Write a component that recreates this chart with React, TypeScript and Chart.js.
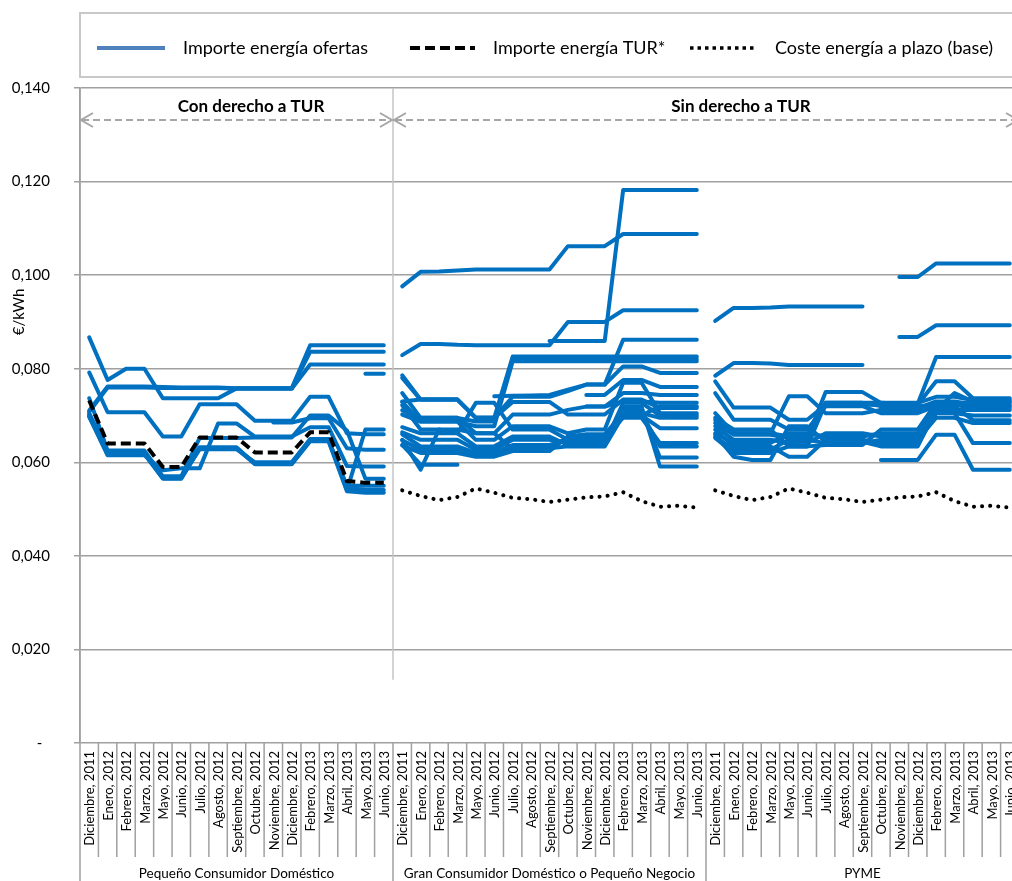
import React, { useEffect, useRef } from 'react';
import { Chart, registerables } from 'chart.js';

Chart.register(...registerables);

// ---------- DATA ----------
const months = [
  'Diciembre, 2011', 'Enero, 2012', 'Febrero, 2012', 'Marzo, 2012', 'Mayo, 2012', 'Junio, 2012',
  'Julio, 2012', 'Agosto, 2012', 'Septiembre, 2012', 'Octubre, 2012', 'Noviembre, 2012',
  'Diciembre, 2012', 'Febrero, 2013', 'Marzo, 2013', 'Abril, 2013', 'Mayo, 2013', 'Junio, 2013',
];
const segments = ['Pequeño Consumidor Doméstico', 'Gran Consumidor Doméstico o Pequeño Negocio', 'PYME'];
const yTickValues = [0, 0.02, 0.04, 0.06, 0.08, 0.1, 0.12, 0.14];
const legendLabels = ['Importe energía ofertas', 'Importe energía TUR*', 'Coste energía a plazo (base)'];
const headerLabels = ['Con derecho a TUR', 'Sin derecho a TUR'];

type S = (number | null)[];
const N = null;

// Pequeño Consumidor Doméstico – offers
const domesticOffers: S[] = [
  [0.0867, 0.0776, 0.0800, 0.0800, 0.0737, 0.0737, 0.0737, 0.0737, 0.0758, 0.0758, 0.0758, 0.0758, 0.0850, 0.0850, 0.0850, 0.0850, 0.0850],
  [0.0711, 0.0762, 0.0762, 0.0762, 0.0761, 0.0760, 0.0760, 0.0760, 0.0758, 0.0758, 0.0758, 0.0758, 0.0836, 0.0836, 0.0836, 0.0836, 0.0836],
  [0.0708, 0.0760, 0.0760, 0.0760, 0.0759, 0.0759, 0.0759, 0.0759, 0.0757, 0.0757, 0.0757, 0.0757, 0.0809, 0.0809, 0.0809, 0.0809, 0.0809],
  [N, N, N, N, N, N, N, N, N, N, N, N, N, N, N, 0.0789, 0.0789],
  [0.0792, 0.0707, 0.0707, 0.0707, 0.0655, 0.0655, 0.0724, 0.0724, 0.0724, 0.0689, 0.0689, 0.0689, 0.0740, 0.0740, 0.0662, 0.0660, 0.0660],
  [N, N, N, N, N, N, N, N, N, N, 0.0685, 0.0685, 0.0694, 0.0694, 0.0630, 0.0627, 0.0627],
  [0.0697, 0.0615, 0.0615, 0.0615, 0.0583, 0.0587, 0.0587, 0.0683, 0.0683, 0.0655, 0.0655, 0.0655, 0.0675, 0.0675, 0.0592, 0.0591, 0.0591],
  [0.0737, 0.0625, 0.0625, 0.0625, 0.0570, 0.0570, 0.0652, 0.0652, 0.0652, 0.0653, 0.0653, 0.0653, 0.0700, 0.0700, 0.0668, 0.0565, 0.0565],
  [0.0700, 0.0622, 0.0622, 0.0622, 0.0568, 0.0568, 0.0628, 0.0628, 0.0628, 0.0600, 0.0600, 0.0600, 0.0650, 0.0650, 0.0540, 0.0670, 0.0670],
  [0.0705, 0.0620, 0.0620, 0.0620, 0.0568, 0.0568, 0.0632, 0.0632, 0.0632, 0.0597, 0.0597, 0.0597, 0.0647, 0.0647, 0.0545, 0.0541, 0.0541],
  [0.0702, 0.0617, 0.0617, 0.0617, 0.0565, 0.0565, 0.0630, 0.0630, 0.0630, 0.0596, 0.0596, 0.0596, 0.0645, 0.0645, 0.0538, 0.0535, 0.0535],
  [0.0698, 0.0619, 0.0619, 0.0619, 0.0566, 0.0566, 0.0629, 0.0629, 0.0629, 0.0598, 0.0598, 0.0598, 0.0646, 0.0646, 0.0550, 0.0550, 0.0550],
];

// Gran Consumidor Doméstico o Pequeño Negocio – offers
const largeDomesticOffers: S[] = [
  [0.0976, 0.1007, 0.1008, 0.1010, 0.1012, 0.1012, 0.1012, 0.1012, 0.1012, 0.1062, 0.1062, 0.1062, 0.1088, 0.1088, 0.1088, 0.1088, 0.1088],
  [0.0829, 0.0853, 0.0853, 0.0851, 0.0850, 0.0850, 0.0850, 0.0850, 0.0850, 0.0900, 0.0900, 0.0900, 0.0925, 0.0925, 0.0925, 0.0925, 0.0925],
  [N, N, N, N, N, N, N, N, 0.0859, 0.0859, 0.0859, 0.0859, 0.1182, 0.1182, 0.1182, 0.1182, 0.1182],
  [0.0786, 0.0734, 0.0734, 0.0734, 0.0695, 0.0695, 0.0740, 0.0740, 0.0740, 0.0752, 0.0766, 0.0766, 0.0862, 0.0862, 0.0862, 0.0862, 0.0862],
  [N, N, N, N, N, 0.0741, 0.0742, 0.0743, 0.0744, 0.0755, 0.0766, 0.0766, 0.0805, 0.0805, 0.0791, 0.0791, 0.0791],
  [N, N, N, N, N, N, N, N, N, N, 0.0744, 0.0744, 0.0776, 0.0776, 0.0761, 0.0761, 0.0761],
  [N, N, N, N, N, N, N, N, N, N, 0.0719, 0.0719, 0.0730, 0.0730, 0.0727, 0.0727, 0.0727],
  [0.0780, 0.0734, 0.0734, 0.0734, 0.0695, 0.0695, 0.0826, 0.0826, 0.0826, 0.0826, 0.0826, 0.0826, 0.0826, 0.0826, 0.0826, 0.0826, 0.0826],
  [0.0748, 0.0695, 0.0695, 0.0695, 0.0687, 0.0687, 0.0821, 0.0821, 0.0821, 0.0821, 0.0821, 0.0821, 0.0821, 0.0821, 0.0821, 0.0821, 0.0821],
  [0.0729, 0.0687, 0.0687, 0.0687, 0.0677, 0.0677, 0.0816, 0.0816, 0.0816, 0.0816, 0.0816, 0.0816, 0.0816, 0.0816, 0.0816, 0.0816, 0.0816],
  [0.0730, 0.0734, 0.0734, 0.0734, 0.0695, 0.0695, 0.0729, 0.0729, 0.0729, 0.0702, 0.0702, 0.0702, 0.0734, 0.0734, 0.0716, 0.0716, 0.0716],
  [0.0722, 0.0670, 0.0670, 0.0662, 0.0727, 0.0727, 0.0670, 0.0670, 0.0670, 0.0648, 0.0648, 0.0648, 0.0700, 0.0700, 0.0720, 0.0720, 0.0720],
  [0.0711, 0.0695, 0.0695, 0.0695, 0.0662, 0.0662, 0.0702, 0.0702, 0.0702, 0.0712, 0.0719, 0.0719, 0.0748, 0.0748, 0.0744, 0.0744, 0.0744],
  [0.0648, 0.0584, 0.0670, 0.0670, 0.0662, 0.0662, 0.0628, 0.0628, 0.0628, 0.0655, 0.0655, 0.0655, 0.0695, 0.0695, 0.0641, 0.0641, 0.0641],
  [0.0637, 0.0595, 0.0595, 0.0595, N, N, N, N, N, N, N, N, N, N, N, N, N],
  [0.0675, 0.0662, 0.0662, 0.0662, 0.0634, 0.0634, 0.0655, 0.0655, 0.0655, 0.0637, 0.0637, 0.0637, 0.0712, 0.0712, 0.0610, 0.0610, 0.0610],
  [0.0664, 0.0648, 0.0648, 0.0648, 0.0627, 0.0627, 0.0648, 0.0648, 0.0648, 0.0641, 0.0641, 0.0641, 0.0719, 0.0719, 0.0591, 0.0591, 0.0591],
  [0.0660, 0.0634, 0.0634, 0.0634, 0.0620, 0.0620, 0.0637, 0.0637, 0.0637, 0.0648, 0.0648, 0.0648, 0.0705, 0.0705, 0.0634, 0.0634, 0.0634],
  [0.0647, 0.0627, 0.0627, 0.0627, 0.0617, 0.0617, 0.0630, 0.0630, 0.0630, 0.0634, 0.0634, 0.0634, 0.0700, 0.0700, 0.0673, 0.0673, 0.0673],
  [0.0636, 0.0620, 0.0620, 0.0620, 0.0612, 0.0612, 0.0624, 0.0624, 0.0624, 0.0655, 0.0660, 0.0660, 0.0705, 0.0705, 0.0695, 0.0695, 0.0695],
  [0.0702, 0.0687, 0.0687, 0.0687, 0.0648, 0.0648, 0.0677, 0.0677, 0.0677, 0.0662, 0.0670, 0.0670, 0.0770, 0.0770, 0.0705, 0.0705, 0.0705],
  [N, N, N, N, N, N, N, N, N, 0.0641, 0.0641, 0.0641, 0.0727, 0.0727, 0.0700, 0.0700, 0.0700],
];

// PYME – offers
const smeOffers: S[] = [
  [0.0902, 0.0930, 0.0930, 0.0931, 0.0933, 0.0933, 0.0933, 0.0933, 0.0933, N, N, N, N, N, N, N, N],
  [0.0785, 0.0812, 0.0812, 0.0811, 0.0808, 0.0808, 0.0808, 0.0808, 0.0808, N, N, N, N, N, N, N, N],
  [N, N, N, N, N, N, N, N, N, N, 0.0996, 0.0996, 0.1025, 0.1025, 0.1025, 0.1025, 0.1025],
  [N, N, N, N, N, N, N, N, N, N, 0.0868, 0.0868, 0.0893, 0.0893, 0.0893, 0.0893, 0.0893],
  [0.0705, 0.0662, 0.0662, 0.0662, 0.0655, 0.0655, 0.0727, 0.0727, 0.0727, 0.0727, 0.0725, 0.0725, 0.0825, 0.0825, 0.0825, 0.0825, 0.0825],
  [0.0773, 0.0717, 0.0717, 0.0717, 0.0691, 0.0691, 0.0723, 0.0723, 0.0723, 0.0723, 0.0723, 0.0723, 0.0773, 0.0773, 0.0737, 0.0737, 0.0737],
  [N, N, N, N, N, N, N, N, N, 0.0605, 0.0605, 0.0605, 0.0659, 0.0659, 0.0584, 0.0584, 0.0584],
  [0.0748, 0.0691, 0.0691, 0.0691, 0.0670, 0.0670, 0.0720, 0.0720, 0.0720, 0.0705, 0.0705, 0.0705, 0.0720, 0.0705, 0.0641, 0.0641, 0.0641],
  [0.0690, 0.0662, 0.0662, 0.0662, 0.0741, 0.0741, 0.0705, 0.0705, 0.0705, 0.0712, 0.0712, 0.0712, 0.0727, 0.0727, 0.0720, 0.0720, 0.0720],
  [0.0684, 0.0659, 0.0659, 0.0659, 0.0652, 0.0652, 0.0750, 0.0750, 0.0750, 0.0727, 0.0727, 0.0727, 0.0740, 0.0740, 0.0733, 0.0733, 0.0733],
  [0.0670, 0.0634, 0.0634, 0.0634, 0.0612, 0.0612, 0.0648, 0.0648, 0.0648, 0.0641, 0.0641, 0.0641, 0.0705, 0.0705, 0.0700, 0.0700, 0.0700],
  [0.0677, 0.0648, 0.0648, 0.0648, 0.0641, 0.0641, 0.0662, 0.0662, 0.0662, 0.0655, 0.0655, 0.0655, 0.0712, 0.0712, 0.0712, 0.0712, 0.0712],
  [0.0662, 0.0641, 0.0641, 0.0641, 0.0662, 0.0662, 0.0655, 0.0655, 0.0655, 0.0662, 0.0662, 0.0662, 0.0719, 0.0719, 0.0690, 0.0690, 0.0690],
  [0.0655, 0.0627, 0.0627, 0.0627, 0.0648, 0.0648, 0.0641, 0.0641, 0.0641, 0.0648, 0.0648, 0.0648, 0.0695, 0.0695, 0.0684, 0.0684, 0.0684],
  [0.0652, 0.0620, 0.0620, 0.0620, 0.0634, 0.0634, 0.0637, 0.0637, 0.0637, 0.0670, 0.0670, 0.0670, 0.0727, 0.0727, 0.0727, 0.0727, 0.0727],
  [0.0695, 0.0670, 0.0670, 0.0670, 0.0634, 0.0634, 0.0727, 0.0727, 0.0727, 0.0720, 0.0720, 0.0720, 0.0723, 0.0723, 0.0716, 0.0716, 0.0716],
  [0.0659, 0.0612, 0.0605, 0.0605, 0.0677, 0.0677, 0.0644, 0.0644, 0.0644, 0.0634, 0.0634, 0.0634, 0.0712, 0.0748, 0.0730, 0.0730, 0.0730],
  [N, N, N, N, N, N, N, N, N, 0.0716, 0.0716, 0.0716, 0.0730, 0.0730, 0.0723, 0.0723, 0.0723],
];

// Importe energía TUR* (only Pequeño Consumidor Doméstico)
const turPrice: S = [0.0732, 0.0640, 0.0640, 0.0640, 0.0590, 0.0590, 0.0653, 0.0653, 0.0653, 0.0621, 0.0621, 0.0621, 0.0664, 0.0664, 0.0560, 0.0556, 0.0556];

// Coste energía a plazo (base) (shown for segments without TUR)
const forwardCost: S = [0.0540, 0.0528, 0.0519, 0.0526, 0.0544, 0.0535, 0.0524, 0.0521, 0.0515, 0.0520, 0.0525, 0.0527, 0.0536, 0.0517, 0.0505, 0.0507, 0.0503];

// ---------- HELPERS ----------
const GROUP = months.length;
const allLabels = [...months, ...months, ...months];
const place = (group: number, arr: S): S => {
  const out: S = new Array(GROUP * 3).fill(null);
  arr.forEach((v, i) => { out[group * GROUP + i] = v; });
  return out;
};

const FONT = 'Lato, "Open Sans", sans-serif';
const BLUE = '#0070C0';
const W = 1030;
const H = 881;

const blueSet = (group: number, arr: S) => ({
  data: place(group, arr),
  borderColor: BLUE,
  borderWidth: 4,
  pointRadius: 0,
  fill: false,
  spanGaps: false,
  borderCapStyle: 'round' as const,
  borderJoinStyle: 'round' as const,
  order: 2,
});

const datasets: any[] = [
  {
    data: place(0, turPrice),
    borderColor: '#000',
    borderWidth: 4,
    borderDash: [10, 5],
    pointRadius: 0,
    fill: false,
    spanGaps: false,
    borderJoinStyle: 'round',
    order: 0,
  },
  ...[1, 2].map((g) => ({
    data: place(g, forwardCost),
    borderColor: '#000',
    borderWidth: 4,
    borderDash: [0.1, 8],
    borderCapStyle: 'round',
    pointRadius: 0,
    fill: false,
    spanGaps: false,
    order: 1,
  })),
  ...domesticOffers.map((s) => blueSet(0, s)),
  ...largeDomesticOffers.map((s) => blueSet(1, s)),
  ...smeOffers.map((s) => blueSet(2, s)),
];

const chevron = (ctx: CanvasRenderingContext2D, tipX: number, y: number, dir: number) => {
  ctx.beginPath();
  ctx.moveTo(tipX - dir * 12, y - 7);
  ctx.lineTo(tipX, y);
  ctx.lineTo(tipX - dir * 12, y + 7);
  ctx.stroke();
};

const decor = {
  id: 'decor',
  beforeDatasetsDraw(chart: any) {
    const ctx: CanvasRenderingContext2D = chart.ctx;
    const { top, left, right } = chart.chartArea;
    const xs = chart.scales.x;
    const ys = chart.scales.y;
    const cw = xs.getPixelForValue(1) - xs.getPixelForValue(0);
    const b1 = xs.getPixelForValue(GROUP) - cw / 2;
    ctx.save();
    ctx.strokeStyle = '#c4c4c4';
    ctx.lineWidth = 1.5;
    ctx.beginPath();
    ctx.moveTo(b1, top);
    ctx.lineTo(b1, ys.getPixelForValue(0.0135));
    ctx.stroke();
    const ay = 120;
    ctx.strokeStyle = '#a6a6a6';
    ctx.lineWidth = 2;
    ctx.setLineDash([7, 4]);
    ctx.beginPath();
    ctx.moveTo(left + 2, ay);
    ctx.lineTo(b1 - 2, ay);
    ctx.moveTo(b1 + 2, ay);
    ctx.lineTo(right - 2, ay);
    ctx.stroke();
    ctx.setLineDash([]);
    chevron(ctx, left + 1, ay, -1);
    chevron(ctx, b1 - 1, ay, 1);
    chevron(ctx, b1 + 1, ay, -1);
    chevron(ctx, right - 1, ay, 1);
    ctx.fillStyle = '#000';
    ctx.font = `bold 17px ${FONT}`;
    ctx.textAlign = 'center';
    ctx.textBaseline = 'middle';
    ctx.fillText(headerLabels[0], 251, 107);
    ctx.fillText(headerLabels[1], 741, 107);
    ctx.restore();
  },
  afterDraw(chart: any) {
    const ctx: CanvasRenderingContext2D = chart.ctx;
    const { top, bottom, left } = chart.chartArea;
    const xs = chart.scales.x;
    const n = allLabels.length;
    const cw = xs.getPixelForValue(1) - xs.getPixelForValue(0);
    const x0 = xs.getPixelForValue(0) - cw / 2;
    ctx.save();
    ctx.strokeStyle = '#a0a0a0';
    ctx.lineWidth = 1.5;
    ctx.beginPath();
    for (let i = 0; i <= n; i++) {
      const bx = x0 + i * cw;
      const isGroup = i % GROUP === 0;
      ctx.moveTo(bx, bottom);
      ctx.lineTo(bx, isGroup ? H : 857);
    }
    ctx.moveTo(left, top);
    ctx.lineTo(left, bottom);
    ctx.stroke();
    ctx.fillStyle = '#000';
    ctx.font = `13px ${FONT}`;
    ctx.textAlign = 'right';
    ctx.textBaseline = 'middle';
    allLabels.forEach((lab, i) => {
      const cx = xs.getPixelForValue(i);
      ctx.save();
      ctx.translate(cx + 1, 751);
      ctx.rotate(-Math.PI / 2);
      ctx.fillText(lab, 0, 0);
      ctx.restore();
    });
    ctx.textAlign = 'center';
    ctx.font = `13.5px ${FONT}`;
    segments.forEach((s, g) => {
      const cx = x0 + (g + 0.5) * GROUP * cw;
      ctx.fillText(s, cx, 874);
    });
    ctx.save();
    ctx.translate(19, 312);
    ctx.rotate(-Math.PI / 2);
    ctx.font = `15px ${FONT}`;
    ctx.fillText('€/kWh', 0, 0);
    ctx.restore();
    ctx.strokeStyle = '#c8c8c8';
    ctx.lineWidth = 2;
    ctx.strokeRect(80, 13, 980, 64);
    const ly = 48;
    ctx.lineWidth = 4;
    ctx.strokeStyle = '#4F81BD';
    ctx.beginPath(); ctx.moveTo(97, ly); ctx.lineTo(165, ly); ctx.stroke();
    ctx.strokeStyle = '#000';
    ctx.setLineDash([10, 5]);
    ctx.beginPath(); ctx.moveTo(410, ly); ctx.lineTo(475, ly); ctx.stroke();
    ctx.setLineDash([3.5, 4]);
    ctx.lineWidth = 3.5;
    ctx.beginPath(); ctx.moveTo(690, ly); ctx.lineTo(757, ly); ctx.stroke();
    ctx.setLineDash([]);
    ctx.font = `18px ${FONT}`;
    ctx.textAlign = 'left';
    ctx.fillText(legendLabels[0], 183, ly);
    ctx.fillText(legendLabels[1], 493, ly);
    ctx.fillText(legendLabels[2], 775, ly);
    ctx.restore();
  },
};

export default function App() {
  const ref = useRef<HTMLCanvasElement>(null);
  useEffect(() => {
    if (!ref.current) return;
    const chart = new Chart(ref.current, {
      type: 'line',
      data: { labels: allLabels, datasets },
      options: {
        responsive: false,
        animation: false,
        devicePixelRatio: 1,
        layout: { padding: { left: 0, right: W - 1019, top: 88, bottom: H - 743 } },
        plugins: { legend: { display: false }, tooltip: { enabled: false } },
        elements: { point: { radius: 0 }, line: { tension: 0 } },
        scales: {
          x: { type: 'category', offset: true, display: false },
          y: {
            min: yTickValues[0],
            max: yTickValues[yTickValues.length - 1],
            afterFit: (s: any) => { s.width = 80; },
            afterBuildTicks: (s: any) => { s.ticks = yTickValues.map((v) => ({ value: v })); },
            ticks: {
              color: '#000',
              font: { family: FONT, size: 15 },
              padding: 24,
              callback: (v: any) => (Number(v) === 0 ? '-  ' : Number(v).toFixed(3).replace('.', ',')),
            },
            grid: { color: '#a0a0a0', lineWidth: 1.5, tickLength: 6, drawTicks: true },
            border: { display: true, color: '#a0a0a0', width: 1.5 },
          },
        },
      },
      plugins: [decor],
    } as any);
    return () => chart.destroy();
  }, []);
  return (
    <div style={{ position: 'fixed', left: 0, top: 0, width: 1012, height: H, overflow: 'hidden', background: '#fff' }}>
      <canvas ref={ref} width={W} height={H} style={{ display: 'block', width: W, height: H }} />
    </div>
  );
}
